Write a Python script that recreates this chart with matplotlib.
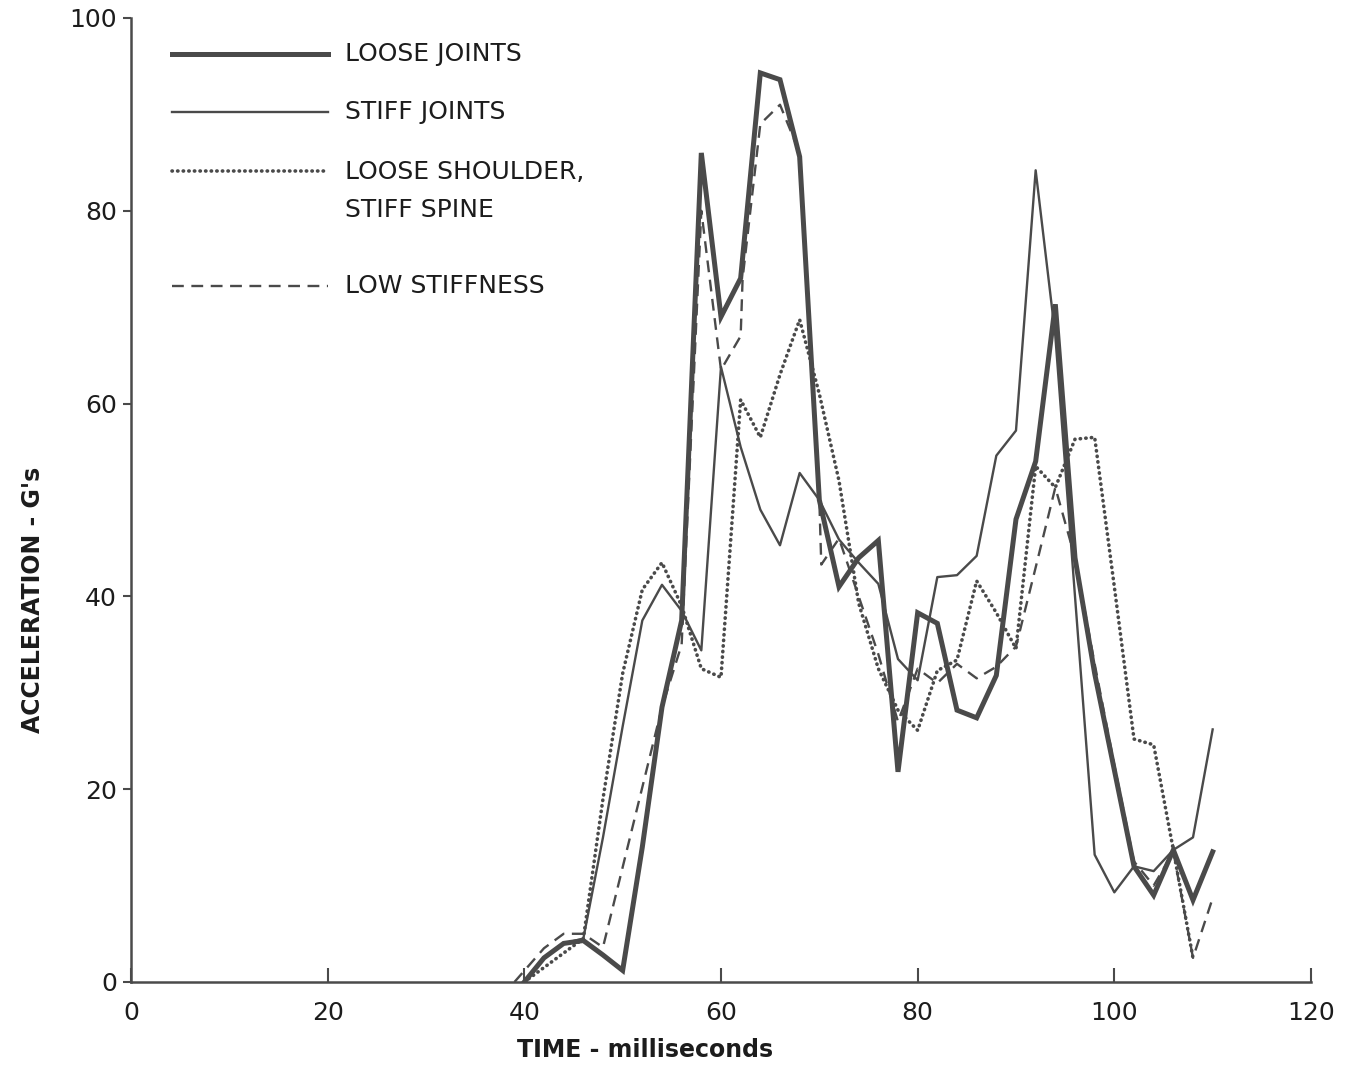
import matplotlib
matplotlib.use("Agg")
import matplotlib.pyplot as plt

# --- data (time in ms, acceleration in G) ---
loose_t = [40, 42, 44, 46, 48, 50, 52, 54, 56, 58, 60, 62, 64, 66, 68, 70, 72, 74,
           76, 78, 80, 82, 84, 86, 88, 90, 92, 94, 96, 98, 100, 102, 104, 106, 108, 110]
loose_g = [0, 2.5, 4.0, 4.3, 2.8, 1.2, 14, 28.5, 37.5, 86, 69, 73, 94.3, 93.6, 85.6, 50, 41, 44,
           45.8, 21.8, 38.3, 37.2, 28.2, 27.4, 31.8, 48, 54, 70.3, 44, 32, 22, 12, 9, 13.7, 8.5, 13.5]

stiff_t = [40, 42, 44, 46, 48, 50, 52, 54, 56, 58, 60, 62, 64, 66, 68, 70, 72, 74,
           76, 78, 80, 82, 84, 86, 88, 90, 92, 94, 96, 98, 100, 102, 104, 106, 108, 110]
stiff_g = [0, 2.5, 4.0, 4.5, 15, 26.5, 37.5, 41.2, 38.5, 34.4, 63.8, 55.5, 49, 45.3, 52.8, 50, 45.9, 43.5,
           41.3, 33.5, 31.3, 42, 42.2, 44.2, 54.6, 57.2, 84.2, 67, 40, 13.2, 9.3, 12, 11.5, 13.7, 15, 26.2]

shoulder_t = [40, 42, 44, 46, 48, 50, 52, 54, 56, 58, 60, 62, 64, 66, 68, 70, 72, 74,
              76, 78, 80, 82, 84, 86, 88, 90, 92, 94, 96, 98, 100, 102, 104, 106, 108]
shoulder_g = [0, 1.5, 3.0, 4.5, 19, 32, 40.7, 43.5, 39, 32.5, 31.6, 60.4, 56.5, 63, 68.7, 61, 52, 39.3,
              32.5, 28.2, 26.1, 32.3, 33.4, 41.6, 38.3, 34.6, 53.5, 51.3, 56.3, 56.5, 41, 25.2, 24.6, 13.7, 2.5]

lowstiff_t = [39, 42, 44, 46, 48, 54, 56, 58, 60, 62, 62.2, 64, 66, 68, 70, 70.2, 72, 74,
              76, 78, 80, 82, 84, 86, 88, 90, 92, 94, 96, 98, 100, 102, 104, 106, 108, 110]
lowstiff_g = [0, 3.5, 5, 5, 3.6, 28.5, 35, 80, 63.5, 67, 73, 89, 91, 86, 50, 43.3, 46, 40,
              34, 27, 32.5, 31, 33, 31.5, 32.7, 34.8, 43, 51.3, 44, 33, 22.5, 12.5, 10, 13.5, 2.5, 8.7]

labels = ["LOOSE JOINTS", "STIFF JOINTS", "LOOSE SHOULDER,\nSTIFF SPINE", "LOW STIFFNESS"]

ink = "#4a4a4a"
txt = "#1c1c1c"

styles = [
    dict(color=ink, linewidth=3.6, solid_joinstyle="miter"),
    dict(color=ink, linewidth=1.7),
    dict(color=ink, linewidth=2.6, linestyle=(0, (0.1, 1.45)), dash_capstyle="round"),
    dict(color=ink, linewidth=1.7, linestyle=(0, (5, 3.2))),
]

fig = plt.figure(figsize=(13.46, 10.69), dpi=100)
ax = fig.add_axes([0.0973, 0.0814, 0.8767, 0.9018])

series = [(loose_t, loose_g), (stiff_t, stiff_g), (shoulder_t, shoulder_g), (lowstiff_t, lowstiff_g)]
for (t, g), st in zip(series, styles):
    ax.plot(t, g, **st)

# hand-made legend in the upper left corner
leg_y = [0.963, 0.9025, 0.841, 0.722]
for st, lab, y in zip(styles, labels, leg_y):
    ax.plot([0.035, 0.167], [y, y], transform=ax.transAxes, clip_on=False, **st)
    multi = "\n" in lab
    ax.text(0.181, y + 0.012 if multi else y, lab, transform=ax.transAxes,
            fontsize=18, color=txt, va="top" if multi else "center", linespacing=1.75)

ax.set_xlim(0, 120)
ax.set_ylim(0, 100)
ax.set_xticks(range(0, 121, 20))
ax.set_yticks(range(0, 101, 20))

for s in ["top", "right"]:
    ax.spines[s].set_visible(False)
for s in ["left", "bottom"]:
    ax.spines[s].set_linewidth(1.8)
    ax.spines[s].set_color(ink)

ax.tick_params(axis="x", direction="in", length=10, width=1.5, color=ink,
               labelsize=18, labelcolor=txt, pad=14)
ax.tick_params(axis="y", direction="out", length=6, width=1.5, color=ink,
               labelsize=18, labelcolor=txt, pad=4)

ax.set_xlabel("TIME - milliseconds", fontsize=17, fontweight="bold", color=txt)
ax.xaxis.set_label_coords(0.436, -0.058)
ax.set_ylabel("ACCELERATION - G's", fontsize=17, fontweight="bold", color=txt)
ax.yaxis.set_label_coords(-0.073, 0.396)

fig.savefig("out.png", dpi=100, facecolor="white")
